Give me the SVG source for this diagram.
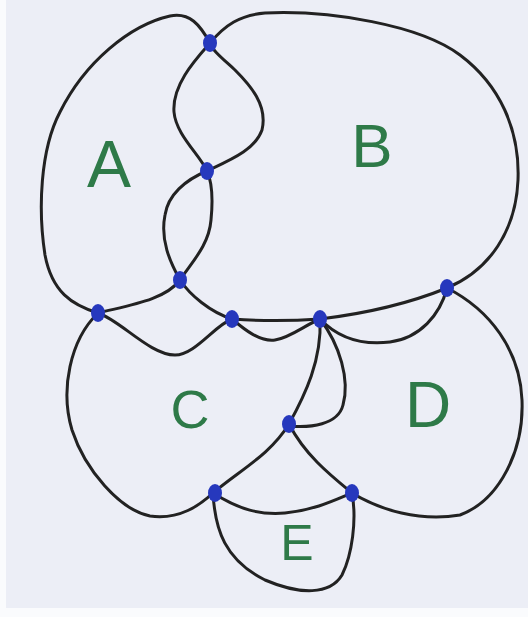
<svg xmlns="http://www.w3.org/2000/svg" width="528" height="617" viewBox="0 0 528 617">
<style>
.c{fill:none;stroke:#222;stroke-width:3;stroke-linecap:round;stroke-linejoin:round}
.d{fill:#2638bd}
.t{fill:#2e7a48;font-family:"Liberation Sans","DejaVu Sans",sans-serif;text-anchor:middle}
</style>
<rect width="528" height="617" fill="#fafbfd"/>
<rect x="6" y="0" width="522" height="608" fill="#eceef6"/>
<g id="connectors">
<path class="c" d="M210,43 C195,60 172,85 174,112 C176,135 200,155 207,171 C212,182 213,200 211,220 C209,245 192,262 180,280 C165,300 130,305 98,313 C72,305 52,292 45,255 C38,210 40,150 60,112 C85,62 130,25 170,16 C190,12 200,25 210,43"/>
<path class="c" d="M210,43 C225,25 240,15 265,13 C330,10 420,25 460,55 C500,85 520,130 518,180 C516,230 490,270 447,288 C410,303 370,313 320,319 C290,321 260,321 232,319 C210,312 190,295 180,280 C170,262 160,240 165,215 C168,195 185,180 207,171 C230,160 255,150 262,130 C268,105 250,85 235,70 C222,58 212,50 210,43"/>
<path class="c" d="M98,313 C70,340 60,390 72,430 C85,470 120,510 150,516 C180,520 200,505 213,493"/>
<path class="c" d="M98,313 C120,320 150,355 175,355 C195,355 215,325 232,319"/>
<path class="c" d="M232,319 C245,330 260,342 275,340 C290,338 305,325 320,319"/>
<path class="c" d="M320,319 C322,360 305,395 289,424"/>
<path class="c" d="M320,319 C340,345 350,380 343,405 C338,425 310,428 289,426"/>
<path class="c" d="M289,424 C270,455 240,470 213,493"/>
<path class="c" d="M289,424 C305,455 330,475 352,493"/>
<path class="c" d="M320,319 C340,340 365,345 390,342 C420,338 440,315 447,288"/>
<path class="c" d="M447,288 C490,310 520,350 522,400 C524,450 500,500 460,515 C420,522 380,510 352,493"/>
<path class="c" d="M213,493 C240,510 260,515 285,513 C315,510 335,500 352,493"/>
<path class="c" d="M213,493 C215,530 225,560 265,580 C300,595 330,595 342,575 C352,555 357,520 352,493"/>
</g>
<g id="v1"><ellipse class="d" cx="210" cy="43" rx="7" ry="9"/></g>
<g id="v2"><ellipse class="d" cx="207" cy="171" rx="7" ry="9"/></g>
<g id="v3"><ellipse class="d" cx="180" cy="280" rx="7" ry="9"/></g>
<g id="v4"><ellipse class="d" cx="98" cy="313" rx="7" ry="9"/></g>
<g id="v5"><ellipse class="d" cx="232" cy="319" rx="7" ry="9"/></g>
<g id="v6"><ellipse class="d" cx="320" cy="319" rx="7" ry="9"/></g>
<g id="v7"><ellipse class="d" cx="447" cy="288" rx="7" ry="9"/></g>
<g id="v8"><ellipse class="d" cx="289" cy="424" rx="7" ry="9"/></g>
<g id="v9"><ellipse class="d" cx="215" cy="493" rx="7" ry="9"/></g>
<g id="v10"><ellipse class="d" cx="352" cy="493" rx="7" ry="9"/></g>
<g id="A"><text class="t" x="109" y="187" font-size="66">A</text></g>
<g id="B"><text class="t" x="372" y="167" font-size="62">B</text></g>
<g id="C"><text class="t" x="190" y="428" font-size="54">C</text></g>
<g id="D"><text class="t" x="428" y="427" font-size="64">D</text></g>
<g id="E"><text class="t" x="297" y="560" font-size="50">E</text></g>
</svg>
